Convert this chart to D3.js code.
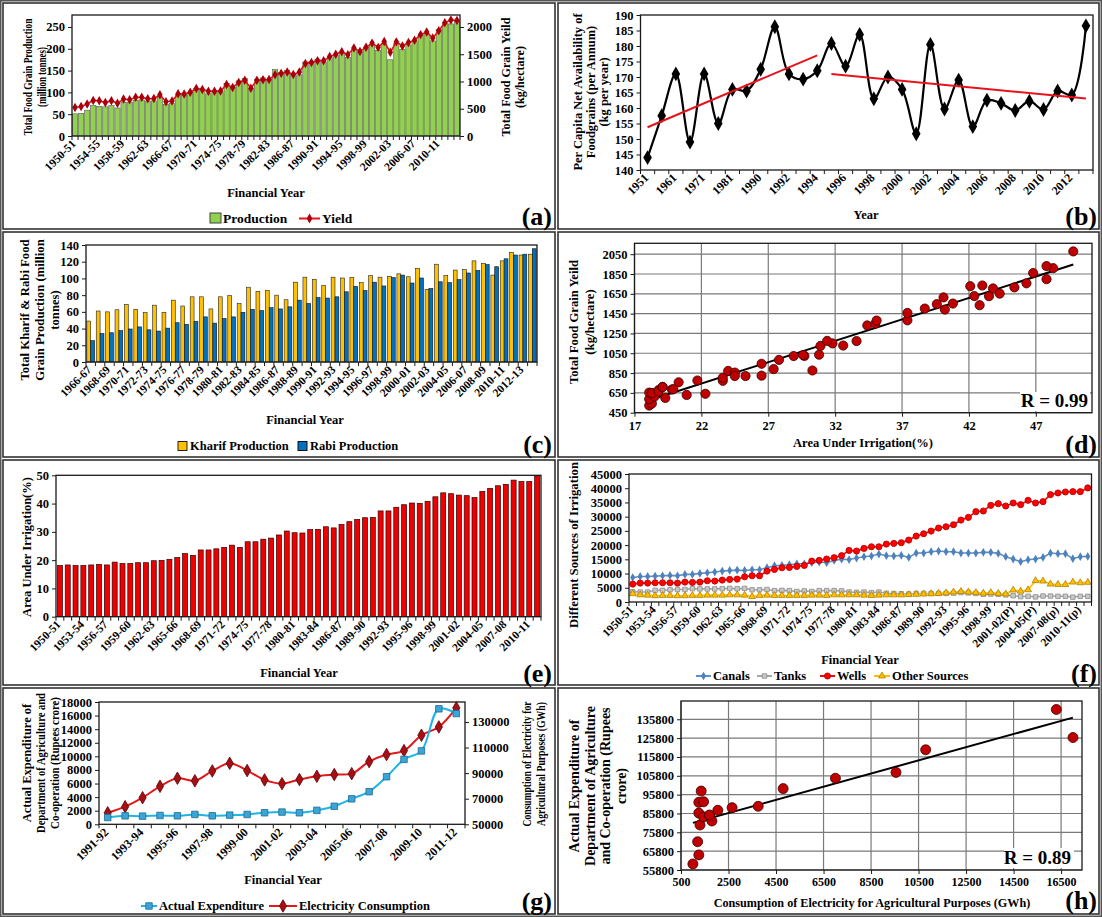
<!DOCTYPE html>
<html><head><meta charset="utf-8"><title>Foodgrain, irrigation and expenditure charts</title>
<script src="https://cdn.jsdelivr.net/npm/d3@7/dist/d3.min.js"></script>
<style>html,body{margin:0;padding:0;background:#fff;}svg{display:block;}</style>
</head><body>
<svg id="fig" width="1102" height="917" xmlns="http://www.w3.org/2000/svg"></svg>
<script>
// ---------------- DATA ----------------
const yearsA = ["1950-51","1951-52","1952-53","1953-54","1954-55","1955-56","1956-57","1957-58","1958-59","1959-60",
"1960-61","1961-62","1962-63","1963-64","1964-65","1965-66","1966-67","1967-68","1968-69","1969-70",
"1970-71","1971-72","1972-73","1973-74","1974-75","1975-76","1976-77","1977-78","1978-79","1979-80",
"1980-81","1981-82","1982-83","1983-84","1984-85","1985-86","1986-87","1987-88","1988-89","1989-90",
"1990-91","1991-92","1992-93","1993-94","1994-95","1995-96","1996-97","1997-98","1998-99","1999-00",
"2000-01","2001-02","2002-03","2003-04","2004-05","2005-06","2006-07","2007-08","2008-09","2009-10",
"2010-11","2011-12","2012-13","2013-14"];
// (a) production (million tonnes) and yield (kg/ha)
const production = [50.8,52.0,59.2,69.8,68.0,66.9,69.9,64.3,77.1,76.7,
82.0,82.7,80.2,80.6,89.4,72.4,74.2,95.1,94.0,99.5,
108.4,105.2,97.0,104.7,99.8,121.0,111.2,126.4,131.9,109.7,
129.6,133.3,129.5,152.4,145.5,150.4,143.4,140.4,169.9,171.0,
176.4,168.4,179.5,184.3,191.5,180.4,199.4,192.3,203.6,209.8,
196.8,212.9,174.8,213.2,198.4,208.6,217.3,230.8,234.5,218.1,
244.5,259.3,257.1,264.4];
const grainYield = [522,542,587,653,647,613,648,599,678,666,
710,709,684,687,757,629,641,775,772,802,
872,855,820,820,824,944,890,983,1022,876,
1023,1032,1035,1124,1149,1175,1128,1173,1331,1349,
1380,1382,1457,1501,1546,1491,1614,1552,1627,1704,
1626,1734,1535,1727,1652,1715,1756,1860,1909,1798,
1930,2078,2129,2120];
const prodTicks = [0,50,100,150,200,250];
const yieldTicks = [0,500,1000,1500,2000];

// (b) per capita net availability (kg/year)
const pcYears = ["1951","1956","1961","1966","1971","1976","1981","1986","1990","1991","1992","1993","1994","1995","1996","1997",
"1998","1999","2000","2001","2002","2003","2004","2005","2006","2007","2008","2009","2010","2011","2012","2013"];
const pcValues = [144,157.5,171,149,171,155,166,165.5,172.5,186.2,171,169.3,172,180.8,173.5,183.7,
163,170,166,151.7,180.5,159.7,169,154,162.5,161.5,159.2,162.2,159.5,165.5,164.2,186.5];
const pcTicks = [140,145,150,155,160,165,170,175,180,185,190];
const pcTrendSpans = [[0,12],[13,31]];

// (c) kharif / rabi production (million tonnes), 1966-67 .. 2013-14
const yearsC = yearsA.slice(16);
const kharif = [49.0,61.0,60.0,62.5,69.0,63.0,59.0,68.0,59.5,74.0,
67.0,78.0,78.0,63.5,78.0,79.5,70.0,89.5,84.5,85.5,
80.0,74.5,95.5,101.5,99.0,91.5,101.5,100.5,101.0,95.0,
103.5,101.5,102.5,105.5,102.0,112.0,87.0,117.0,103.5,110.0,
110.5,121.0,118.0,104.0,121.0,131.0,128.0,129.0];
const rabi = [25.5,34.0,35.0,37.5,39.5,42.0,38.5,37.0,40.5,47.0,
45.0,48.5,54.0,46.5,52.0,54.0,59.5,63.0,61.5,65.0,
63.5,66.0,74.0,70.0,77.0,76.5,78.0,84.0,90.5,85.5,
95.5,91.0,101.0,104.0,94.5,100.5,88.0,96.0,95.0,98.5,
106.5,109.5,116.5,114.0,123.5,128.0,129.0,135.5];
const khrTicks = [0,20,40,60,80,100,120,140];

// (e) area under irrigation (%), 1950-51 .. 2011-12
const yearsE = yearsA.slice(0,62);
const irrigation = [18.1,18.3,18.1,18.1,18.3,18.5,18.3,19.3,18.8,18.8,
19.1,19.1,19.8,19.9,20.3,20.9,22.3,21.7,23.6,23.6,
24.0,24.5,25.3,24.5,26.5,26.5,27.4,27.8,28.9,30.3,
29.7,29.6,30.8,30.9,31.8,31.4,32.6,33.6,34.4,35.0,
35.1,37.4,37.4,38.7,39.6,40.2,40.1,40.8,42.4,43.8,
43.5,43.0,42.8,42.1,44.3,45.4,46.3,46.8,48.3,47.8,
47.8,49.8];
const irrTicks = [0,10,20,30,40,50];

// (d) scatter ticks
const dXTicks = [17,22,27,32,37,42,47];
const dYTicks = [450,650,850,1050,1250,1450,1650,1850,2050];

// (f) sources of irrigation
const yearsF = yearsE.map((y,i)=> i>=57 ? y+"(p)" : (i>=51 ? y+"(P)" : y));
const canals = [8600,8990,8990,9110,9230,9345,9230,9700,9700,10050,
10280,10520,10870,11100,11220,11100,11340,11340,12045,12750,
12860,13100,13450,13450,13800,14040,13800,14630,15040,14920,
15450,15920,16150,16850,16270,16150,16390,15680,17210,17210,
17680,17920,17680,17680,17210,17210,17210,17450,17450,17090,
15920,15100,14160,14860,15100,15680,17210,16970,16970,15210,
15920,16030];
const tanks = [3600,3500,3500,4100,4100,4300,4400,4400,4700,4600,
4600,4600,4700,4800,4700,4800,4300,4300,4400,4000,
4100,4000,3700,3900,3700,4000,4000,4000,3900,3500,
3400,3500,3300,3500,3100,3000,2900,2800,3000,3000,
3000,3000,3000,3100,3300,3200,3000,2700,2800,2700,
2500,2200,1900,2000,1800,2100,2100,2000,2000,1700,
2000,2000];
const wells = [6290,6645,6645,6760,6760,6760,6645,7000,6880,7000,
7470,7350,7700,7940,8050,8880,9230,9230,10870,11460,
12045,12160,12510,12860,14390,14630,15100,15570,16300,18130,
17900,18850,19420,19420,20360,20600,20840,21770,23180,24000,
24940,26000,26460,27170,28810,29750,31750,31990,33980,34570,
33750,34810,34220,35750,34810,35280,37750,38330,38680,38800,
38800,40100];
const otherSources = [2900,2500,2400,2200,2300,2300,2200,2200,2300,2300,
2400,2400,2400,2500,2500,2400,1900,2300,2400,2300,
2300,2300,2300,2300,2400,2400,2300,2500,2500,2500,
2500,2400,2300,2400,2500,2500,2500,2600,2700,2800,
2900,3000,3200,3500,3700,3500,3300,3100,3300,3000,
2800,4200,3800,4300,7500,7350,6300,6150,6150,7000,
6750,6900];
const srcTicks = [0,5000,10000,15000,20000,25000,30000,35000,40000,45000];

// (g) expenditure (Rs crore) and electricity (GWh), 1991-92 .. 2011-12
const yearsG = yearsA.slice(41,62);
const expenditure = [1000,1250,1200,1300,1250,1450,1250,1350,1450,1700,1800,1700,2050,2650,3750,4800,7000,9550,10800,17000,16300];
const electricity = [59000,63800,70800,79700,86000,84000,91700,97700,92000,84700,81800,85000,87500,88900,89600,99000,104500,107600,119600,126100,141000];
const expTicks = [0,2000,4000,6000,8000,10000,12000,14000,16000,18000];
const elecTicks = [50000,70000,90000,110000,130000];
const hXTicks = [500,2500,4500,6500,8500,10500,12500,14500,16500];
const hYTicks = [55800,65800,75800,85800,95800,105800,115800,125800,135800];

// ---------------- HELPERS ----------------
const svg = d3.select("#fig");
const FONT = "'Liberation Serif','Times New Roman',Times,serif";
const INK = "#1a1a1a";

function txt(x, y, s, fs, anchor, baseline) {
  return svg.append("text").attr("x",x).attr("y",y).attr("font-family",FONT).attr("font-size",fs)
    .attr("font-weight","bold").attr("fill","#000").attr("text-anchor",anchor||"middle")
    .attr("dominant-baseline", baseline||"central").text(s);
}
function panelLabel(x, y, s){ return txt(x, y, s, 26, "end", "alphabetic"); }
// vertical (rotated) axis title; optional target lengths squeeze the line along its baseline
function vtitle(lines, xs, cy, fs, lens) {
  lines.forEach((s,i)=>{
    const t = svg.append("text").attr("transform",`translate(${xs[i]},${cy}) rotate(-90)`)
      .attr("text-anchor","middle").attr("dominant-baseline","central")
      .attr("font-family",FONT).attr("font-size",fs).attr("font-weight","bold").attr("fill","#000").text(s);
    if (lens && lens[i]) {
      const n = t.node().getComputedTextLength();
      const k = Math.min(1, lens[i]/n);
      t.attr("transform",`translate(${xs[i]},${cy}) rotate(-90) scale(${k},1)`);
    }
  });
}
function frame(x1,y1,x2,y2){
  svg.append("rect").attr("x",x1).attr("y",y1).attr("width",x2-x1).attr("height",y2-y1)
    .attr("fill","none").attr("stroke","#333").attr("stroke-width",1.6);
}
function box(x1,y1,x2,y2){
  svg.append("rect").attr("x",x1).attr("y",y1).attr("width",x2-x1).attr("height",y2-y1)
    .attr("fill","none").attr("stroke",INK).attr("stroke-width",1.3);
}
function styleAxis(g, fs){
  g.select(".domain").remove();
  g.selectAll(".tick line").attr("stroke",INK).attr("stroke-width",1);
  g.selectAll(".tick text").attr("font-family",FONT).attr("font-size",fs).attr("font-weight","bold").attr("fill","#000");
}
function yAxis(scale, x0, ticks, side, fs){
  const ax = (side==="right" ? d3.axisRight(scale) : d3.axisLeft(scale))
    .tickValues(ticks).tickSize(4).tickPadding(3).tickFormat(d=>String(d));
  const g = svg.append("g").attr("transform",`translate(${x0},0)`).call(ax);
  styleAxis(g, fs||12.5);
  return g;
}
function xAxisLin(scale, y0, ticks, fs, pad){
  const g = svg.append("g").attr("transform",`translate(0,${y0})`)
    .call(d3.axisBottom(scale).tickValues(ticks).tickSize(4).tickPadding(pad==null?4:pad).tickFormat(d=>String(d)));
  styleAxis(g, fs||12.5);
  return g;
}
function catAxis(scale, y0, every, fs){
  const cats = scale.domain();
  const edges = cats.map(c=>scale(c)).concat([scale.range()[1]]);
  svg.append("g").selectAll("line").data(edges).join("line")
    .attr("x1",d=>d).attr("x2",d=>d).attr("y1",y0).attr("y2",y0+4).attr("stroke",INK);
  const g = svg.append("g").attr("transform",`translate(0,${y0})`)
    .call(d3.axisBottom(scale).tickValues(cats.filter((c,i)=>i%every===0)).tickSize(0).tickPadding(0));
  styleAxis(g, fs);
  g.selectAll(".tick text").attr("text-anchor","end").attr("transform","rotate(-45)")
    .attr("x",-5).attr("y",3).attr("dy","0.35em");
}
function hgrid(scale, ticks, x1, x2){
  svg.append("g").selectAll("line").data(ticks).join("line")
    .attr("x1",x1).attr("x2",x2).attr("y1",d=>scale(d)).attr("y2",d=>scale(d))
    .attr("stroke","#7a7a7a").attr("stroke-width",1.2);
}
function vgrid(scale, ticks, y1, y2){
  svg.append("g").selectAll("line").data(ticks).join("line")
    .attr("y1",y1).attr("y2",y2).attr("x1",d=>scale(d)).attr("x2",d=>scale(d))
    .attr("stroke","#7a7a7a").attr("stroke-width",1.2);
}
function linreg(xs, ys){
  const mx = d3.mean(xs), my = d3.mean(ys);
  let sxy = 0, sxx = 0;
  xs.forEach((x,i)=>{ sxy += (x-mx)*(ys[i]-my); sxx += (x-mx)*(x-mx); });
  const b = sxy/sxx;
  return x => my + b*(x-mx);
}
function marker(type, size, x, y, fill, stroke){
  return svg.append("path").attr("transform",`translate(${x},${y})`)
    .attr("d", d3.symbol(type, size)()).attr("fill",fill).attr("stroke",stroke||"none").attr("stroke-width",0.8);
}
function markers(cats, xf, yf, type, size, fill, stroke){
  svg.append("g").selectAll("path").data(cats).join("path")
    .attr("transform",(d,i)=>`translate(${xf(d)},${yf(i)})`)
    .attr("d", d3.symbol(type, size)()).attr("fill",fill).attr("stroke",stroke||"none").attr("stroke-width",0.8);
}
function legendLine(x1, x2, y, color, type, size, fill, stroke, label, fs){
  svg.append("line").attr("x1",x1).attr("x2",x2).attr("y1",y).attr("y2",y).attr("stroke",color).attr("stroke-width",2);
  marker(type, size, (x1+x2)/2, y, fill, stroke);
  txt(x2+2, y, label, fs||12.5, "start");
}

// ---------------- FRAMES ----------------
svg.append("rect").attr("x",0.75).attr("y",0.75).attr("width",1100.5).attr("height",915.5)
  .attr("fill","none").attr("stroke","#555").attr("stroke-width",1.5);
[[3,3,555,229],[558,3,1099,229],[3,232,555,457],[558,232,1099,457],
 [3,460,555,685],[558,460,1099,685],[3,688,555,914],[558,688,1099,914]].forEach(r=>frame(...r));

// ---------------- (a) ----------------
{
  const x = d3.scaleBand().domain(yearsA).range([72,460]);
  const y = d3.scaleLinear().domain([0,277.5]).range([136,15]);
  const y2 = d3.scaleLinear().domain([0,2220]).range([136,15]);
  const bw = x.bandwidth()*0.86;
  const cx = d => x(d) + x.bandwidth()/2;
  svg.append("g").selectAll("rect").data(yearsA).join("rect")
    .attr("x",d=>x(d)+(x.bandwidth()-bw)/2).attr("width",bw)
    .attr("y",(d,i)=>y(production[i])).attr("height",(d,i)=>y(0)-y(production[i]))
    .attr("fill","#92D050").attr("stroke","#5a5a5a").attr("stroke-width",0.6);
  svg.append("path").datum(yearsA).attr("fill","none").attr("stroke","#E8121A").attr("stroke-width",1.6)
    .attr("d", d3.line().x(d=>cx(d)).y((d,i)=>y2(grainYield[i])));
  markers(yearsA, cx, i=>y2(grainYield[i]), d3.symbolDiamond, 26, "#A8000A");
  box(72,15,460,136);
  yAxis(y, 72, prodTicks, "left");
  yAxis(y2, 460, yieldTicks, "right");
  catAxis(x, 136, 4, 11.5);
  vtitle(["Total Food Grain Production","(million tonnes)"], [27,41], 77, 12.5, [117,60]);
  vtitle(["Total Food Grain Yeild","(kg/hectare)"], [506,520], 77, 12.5, [119,62]);
  txt(266, 193, "Financial Year", 12.5);
  svg.append("rect").attr("x",210).attr("y",213).attr("width",11).attr("height",10).attr("fill","#92D050").attr("stroke","#444");
  txt(223, 218.5, "Production", 13.5, "start");
  legendLine(299, 320, 218.5, "#E8121A", d3.symbolDiamond, 28, "#A8000A", null, "Yield", 13.5);
  panelLabel(552, 225, "(a)");
}

// ---------------- (b) ----------------
{
  const x = d3.scaleBand().domain(pcYears).range([640.5,1093]);
  const y = d3.scaleLinear().domain([140,190]).range([170,15]);
  const cx = d => x(d) + x.bandwidth()/2;
  const xi = i => x.range()[0] + (i+0.5)*x.step();
  svg.append("path").datum(pcYears).attr("fill","none").attr("stroke","#000").attr("stroke-width",2.2)
    .attr("d", d3.line().curve(d3.curveCatmullRom.alpha(0.5)).x(d=>cx(d)).y((d,i)=>y(pcValues[i])));
  markers(pcYears, cx, i=>y(pcValues[i]), d3.symbolDiamond, 64, "#000");
  pcTrendSpans.forEach(([a,b])=>{
    const idx = d3.range(a,b+1);
    const f = linreg(idx, idx.map(i=>pcValues[i]));
    svg.append("line").attr("x1",xi(a)).attr("x2",xi(b)).attr("y1",y(f(a))).attr("y2",y(f(b)))
      .attr("stroke","#E8121A").attr("stroke-width",2);
  });
  box(640.5,15,1093,170);
  yAxis(y, 640.5, pcTicks, "left");
  catAxis(x, 170, 2, 12);
  vtitle(["Per Capita Net Availability of","Foodgrains (per Annum)","(kg per year)"], [578,591,604], 92, 12.5);
  txt(866, 215, "Year", 12.5);
  panelLabel(1097, 225, "(b)");
}

// ---------------- (c) ----------------
{
  const x = d3.scaleBand().domain(yearsC).range([86,537]);
  const y = d3.scaleLinear().domain([0,140]).range([362,245]);
  const bw = x.bandwidth()*0.41;
  const off = (x.bandwidth() - 2*bw)/2;
  svg.append("g").selectAll("rect").data(yearsC).join("rect")
    .attr("x",d=>x(d)+off).attr("width",bw)
    .attr("y",(d,i)=>y(kharif[i])).attr("height",(d,i)=>y(0)-y(kharif[i]))
    .attr("fill","#FFC000").attr("stroke","#222").attr("stroke-width",0.6);
  svg.append("g").selectAll("rect").data(yearsC).join("rect")
    .attr("x",d=>x(d)+off+bw).attr("width",bw)
    .attr("y",(d,i)=>y(rabi[i])).attr("height",(d,i)=>y(0)-y(rabi[i]))
    .attr("fill","#0070C0").attr("stroke","#111").attr("stroke-width",0.6);
  box(86,245,537,362);
  yAxis(y, 86, khrTicks, "left");
  catAxis(x, 362, 2, 11.5);
  vtitle(["Total Kharif & Rabi Food","Grain Production (million","tonnes)"], [25,40,55], 310, 12.7);
  txt(305, 420, "Financial Year", 12.5);
  svg.append("rect").attr("x",178).attr("y",441.5).attr("width",9).attr("height",9).attr("fill","#FFC000").attr("stroke","#222");
  txt(190, 446, "Kharif Production", 12.5, "start");
  svg.append("rect").attr("x",298).attr("y",441.5).attr("width",9).attr("height",9).attr("fill","#0070C0").attr("stroke","#111");
  txt(310, 446, "Rabi Production", 12.5, "start");
  panelLabel(552, 453, "(c)");
}

// ---------------- (d) ----------------
{
  const x = d3.scaleLinear().domain([17,51.2]).range([634.5,1092]);
  const y = d3.scaleLinear().domain([450,2160]).range([412.7,243.3]);
  hgrid(y, dYTicks, 634.5, 1092);
  vgrid(x, dXTicks, 243.3, 412.7);
  const f = linreg(irrigation, grainYield.slice(0,62));
  const [x0,x1] = d3.extent(irrigation);
  svg.append("line").attr("x1",x(x0)).attr("x2",x(x1)).attr("y1",y(f(x0))).attr("y2",y(f(x1)))
    .attr("stroke","#000").attr("stroke-width",2);
  svg.append("g").selectAll("circle").data(irrigation).join("circle")
    .attr("cx",d=>x(d)).attr("cy",(d,i)=>y(grainYield[i])).attr("r",4.6)
    .attr("fill","#C00000").attr("stroke","#3a0000").attr("stroke-width",0.8);
  svg.append("rect").attr("x",1020).attr("y",392).attr("width",70).attr("height",19).attr("fill","#fff");
  txt(1088, 407, "R = 0.99", 19, "end", "alphabetic");
  box(634.5,243.3,1092,412.7);
  yAxis(y, 634.5, dYTicks, "left");
  xAxisLin(x, 412.7, dXTicks);
  vtitle(["Total Food Grain Yeild","(kg/hectare)"], [574,590], 322, 12.7);
  txt(863, 443, "Area Under Irrigation(%)", 12.5);
  panelLabel(1097, 453, "(d)");
}

// ---------------- (e) ----------------
{
  const x = d3.scaleBand().domain(yearsE).range([56,541]);
  const y = d3.scaleLinear().domain([0,50]).range([616.7,475.3]);
  const bw = x.bandwidth()*0.64;
  svg.append("g").selectAll("rect").data(yearsE).join("rect")
    .attr("x",d=>x(d)+(x.bandwidth()-bw)/2).attr("width",bw)
    .attr("y",(d,i)=>y(irrigation[i])).attr("height",(d,i)=>y(0)-y(irrigation[i]))
    .attr("fill","#EE0000").attr("stroke","#300").attr("stroke-width",0.7);
  box(56,475.3,541,616.7);
  yAxis(y, 56, irrTicks, "left");
  catAxis(x, 616.7, 3, 11.5);
  vtitle(["Area Under Irrigation(%)"], [26.5], 547, 12.5);
  txt(299, 673, "Financial Year", 12.5);
  panelLabel(552, 682, "(e)");
}

// ---------------- (f) ----------------
{
  const x = d3.scaleBand().domain(yearsF).range([629,1091.5]);
  const y = d3.scaleLinear().domain([0,45000]).range([602,474]);
  const cx = d => x(d) + x.bandwidth()/2;
  const series = [
    {v:canals, color:"#5B8FC9", type:d3.symbolDiamond, size:22, fill:"#4F81BD", stroke:null, name:"Canals"},
    {v:tanks, color:"#A6A6A6", type:d3.symbolSquare, size:20, fill:"#C8C8C8", stroke:"#8c8c8c", name:"Tanks"},
    {v:wells, color:"#FF0000", type:d3.symbolCircle, size:30, fill:"#FF0000", stroke:"#B00000", name:"Wells"},
    {v:otherSources, color:"#FFC000", type:d3.symbolTriangle, size:20, fill:"#FFC000", stroke:"#B08000", name:"Other Sources"}
  ];
  series.forEach(s=>{
    svg.append("path").datum(yearsF).attr("fill","none").attr("stroke",s.color).attr("stroke-width",1.6)
      .attr("d", d3.line().x(d=>cx(d)).y((d,i)=>y(s.v[i])));
    markers(yearsF, cx, i=>y(s.v[i]), s.type, s.size, s.fill, s.stroke);
  });
  box(629,474,1091.5,602);
  yAxis(y, 629, srcTicks, "left");
  catAxis(x, 602, 3, 11.5);
  vtitle(["Different Sources of Irrigation"], [574], 545, 12.8);
  txt(860, 660, "Financial Year", 12.5);
  const lx = [[696,711],[757,772],[820,835],[874,890]];
  series.forEach((s,i)=> legendLine(lx[i][0], lx[i][1], 676, s.color, s.type, s.size, s.fill, s.stroke, s.name));
  panelLabel(1097, 682, "(f)");
}

// ---------------- (g) ----------------
{
  const x = d3.scaleBand().domain(yearsG).range([99,465]);
  const y = d3.scaleLinear().domain([0,18000]).range([824.3,702]);
  const y2 = d3.scaleLinear().domain([50000,145600]).range([824.3,702]);
  const cx = d => x(d) + x.bandwidth()/2;
  svg.append("path").datum(yearsG).attr("fill","none").attr("stroke","#E0191C").attr("stroke-width",2)
    .attr("d", d3.line().curve(d3.curveCatmullRom.alpha(0.5)).x(d=>cx(d)).y((d,i)=>y2(electricity[i])));
  svg.append("path").datum(yearsG).attr("fill","none").attr("stroke","#1FB4E8").attr("stroke-width",2)
    .attr("d", d3.line().curve(d3.curveCatmullRom.alpha(0.5)).x(d=>cx(d)).y((d,i)=>y(expenditure[i])));
  markers(yearsG, cx, i=>y2(electricity[i]), d3.symbolDiamond, 45, "#A50F15", "#5a0000");
  markers(yearsG, cx, i=>y(expenditure[i]), d3.symbolSquare, 42, "#3AA6D8", "#1D6890");
  box(99,702,465,824.3);
  yAxis(y, 99, expTicks, "left");
  yAxis(y2, 465, elecTicks, "right");
  catAxis(x, 824.3, 2, 12);
  vtitle(["Actual Expenditure of","Department of Agriculture and","Co-operation (Rupees crore)"], [27,41,55], 763, 12.5, [122,140,132]);
  vtitle(["Consumption of Electricity for","Agricultural Purposes  (GWh)"], [527,541], 764, 12.5, [125,124]);
  txt(283, 880, "Financial Year", 12.5);
  legendLine(141, 157, 906, "#1FB4E8", d3.symbolSquare, 42, "#3AA6D8", "#1D6890", "Actual Expenditure");
  legendLine(269, 297, 906, "#E0191C", d3.symbolDiamond, 45, "#A50F15", "#5a0000", "Electricity Consumption");
  panelLabel(552, 910, "(g)");
}

// ---------------- (h) ----------------
{
  const x = d3.scaleLinear().domain([500,17380]).range([681,1082]);
  const y = d3.scaleLinear().domain([55800,145500]).range([870,701]);
  hgrid(y, hYTicks, 681, 1082);
  vgrid(x, hXTicks, 701, 870);
  const f = linreg(expenditure, electricity);
  const [x0,x1] = d3.extent(expenditure);
  svg.append("line").attr("x1",x(x0)).attr("x2",x(x1)).attr("y1",y(f(x0))).attr("y2",y(f(x1)))
    .attr("stroke","#000").attr("stroke-width",2);
  svg.append("g").selectAll("circle").data(expenditure).join("circle")
    .attr("cx",d=>x(d)).attr("cy",(d,i)=>y(electricity[i])).attr("r",5)
    .attr("fill","#C00000").attr("stroke","#3a0000").attr("stroke-width",0.8);
  svg.append("rect").attr("x",1004).attr("y",848).attr("width",70).attr("height",20).attr("fill","#fff");
  txt(1071, 864, "R = 0.89", 19, "end", "alphabetic");
  box(681,701,1082,870);
  yAxis(y, 681, hYTicks, "left");
  xAxisLin(x, 870, hXTicks, 12, 3);
  vtitle(["Actual Expenditure of","Department of Agriculture","and Co-operation (Rupees","crore)"], [574,590,605.5,621], 786, 14);
  txt(872, 903, "Consumption of Electricity for Agricultural Purposes (GWh)", 12.2);
  panelLabel(1097, 909, "(h)");
}
</script>
</body></html>
